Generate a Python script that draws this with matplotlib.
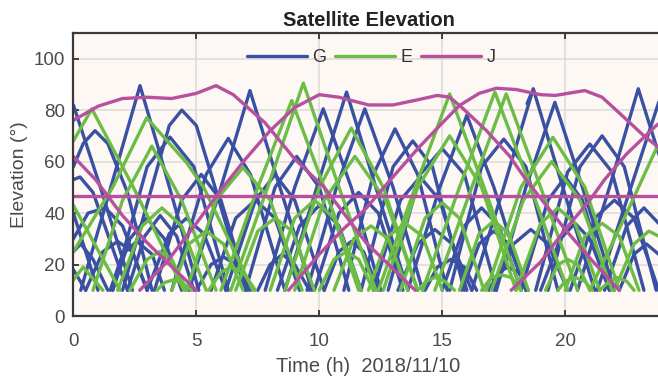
import matplotlib
matplotlib.use("Agg")
import matplotlib.pyplot as plt

# elevation passes: each pass is a list of (time h, elevation deg)
G_passes = [
    [(0, 82), (1.1, 50), (2.4, 10)],
    [(0, 58), (0.4, 67), (0.88, 72), (1.4, 67), (2.2, 48), (3.2, 10)],
    [(0, 53), (0.27, 54), (0.8, 48), (2.2, 10)],
    [(0, 30), (0.6, 40), (1.3, 42), (2.0, 35), (3.0, 10)],
    [(0, 25), (0.3, 28), (0.8, 22), (1.4, 10)],
    [(0.5, 10), (1.2, 25), (1.8, 29), (2.4, 25), (3.0, 10)],
    [(0.3, 10), (1.49, 49), (2.71, 89.5), (3.46, 65), (5.1, 10)],
    [(1.6, 10), (3.0, 58), (3.93, 69.5), (4.9, 58), (6.3, 10)],
    [(2.0, 10), (3.25, 52), (3.9, 74), (4.41, 80), (5.0, 74), (5.7, 52), (7.0, 10)],
    [(1.6, 10), (2.3, 30), (2.98, 38), (3.7, 30), (4.4, 10)],
    [(2.2, 10), (2.9, 31), (3.53, 39), (4.2, 31), (4.9, 10)],
    [(1.5, 10), (2.0, 24), (2.58, 29), (3.2, 24), (3.7, 10)],
    [(0, 40), (1.0, 10)],
    [(0, 18), (0.5, 10)],
    [(3.0, 10), (3.9, 32), (4.6, 38), (5.3, 32), (6.2, 10)],
    [(5.0, 10), (5.6, 20), (6.1, 23), (6.6, 20), (7.2, 10)],
    [(4.0, 10), (5.4, 55), (6.3, 69), (7.2, 55), (8.6, 10)],
    [(4.7, 10), (6.0, 50), (7.18, 87.6), (8.4, 50), (9.7, 10)],
    [(3.3, 10), (4.4, 45), (5.2, 55), (6.0, 45), (7.1, 10)],
    [(5.6, 10), (6.6, 38), (7.4, 45), (8.2, 38), (9.2, 10)],
    [(6.2, 10), (7.4, 45), (8.2, 55), (9.0, 45), (10.2, 10)],
    [(7.5, 10), (8.0, 20), (8.5, 24), (9.0, 20), (9.6, 10)],
    [(7.0, 10), (8.2, 50), (9.08, 62), (10.0, 50), (11.2, 10)],
    [(7.8, 10), (9.0, 50), (10.16, 80.5), (11.3, 50), (12.5, 10)],
    [(8.6, 10), (9.9, 50), (11.11, 87), (12.3, 50), (13.6, 10)],
    [(9.5, 10), (10.7, 50), (11.85, 80.5), (13.0, 50), (14.2, 10)],
    [(8.3, 10), (9.2, 35), (10.0, 43), (10.8, 35), (11.7, 10)],
    [(9.8, 10), (10.8, 40), (11.6, 48), (12.4, 40), (13.4, 10)],
    [(10.2, 10), (10.8, 25), (11.3, 29), (11.8, 25), (12.4, 10)],
    [(11.0, 10), (12.2, 55), (13.08, 72.7), (14.0, 55), (15.2, 10)],
    [(11.7, 10), (13.0, 58), (13.8, 68), (14.6, 58), (15.9, 10)],
    [(12.2, 10), (13.3, 45), (14.1, 54), (14.9, 45), (16.0, 10)],
    [(12.8, 10), (14.1, 55), (15.0, 65), (15.9, 55), (17.2, 10)],
    [(13.2, 10), (14.0, 28), (14.7, 33.6), (15.4, 28), (16.2, 10)],
    [(14.3, 10), (14.8, 19), (15.35, 22), (15.9, 19), (16.4, 10)],
    [(13.6, 10), (14.9, 50), (16.0, 78), (17.1, 50), (18.4, 10)],
    [(15.0, 10), (15.9, 35), (16.6, 42), (17.3, 35), (18.2, 10)],
    [(15.8, 10), (16.5, 28), (17.1, 33), (17.7, 28), (18.4, 10)],
    [(15.3, 10), (16.6, 58), (17.5, 68.7), (18.4, 58), (19.7, 10)],
    [(16.9, 10), (17.3, 17), (17.67, 19), (18.1, 17), (18.5, 10)],
    [(17.1, 10), (17.9, 28), (18.6, 33.6), (19.3, 28), (20.1, 10)],
    [(16.2, 10), (17.5, 50), (18.7, 88.3), (19.9, 50), (21.2, 10)],
    [(18.45, 82.5), (18.6, 86)],
    [(17.2, 10), (18.4, 50), (19.58, 83), (20.7, 50), (22.0, 10)],
    [(18.2, 10), (19.3, 45), (20.0, 54), (20.7, 45), (21.8, 10)],
    [(19.0, 10), (19.8, 30), (20.4, 36), (21.0, 30), (21.8, 10)],
    [(18.8, 10), (20.1, 56), (21.0, 66.8), (21.9, 56), (23.2, 10)],
    [(19.3, 10), (20.6, 58), (21.5, 70), (22.4, 58), (23.7, 10)],
    [(20.5, 10), (21.8, 50), (22.97, 88.3), (24, 57)],
    [(21.3, 10), (22.5, 45), (23.8, 83), (24, 86)],
    [(20.2, 10), (21.2, 38), (22.0, 45), (22.8, 38), (23.8, 10)],
    [(21.6, 10), (22.5, 35), (23.2, 42), (23.9, 35), (24, 33)],
    [(22.2, 10), (22.8, 24), (23.3, 28), (23.8, 24), (24, 22)],
]

E_passes = [
    [(0, 68), (0.75, 80.5), (2.44, 50), (4.5, 10)],
    [(0, 25), (1.6, 50), (2.98, 77), (4.6, 59.6), (5.3, 50), (7.3, 10)],
    [(0.8, 10), (2.0, 45), (3.19, 66), (4.4, 45), (5.8, 10)],
    [(0, 43), (1.9, 10)],
    [(0, 14), (0.4, 19), (1.2, 10)],
    [(1.8, 10), (2.8, 35), (3.6, 42), (4.4, 35), (5.4, 10)],
    [(2.3, 10), (3.0, 22), (3.5, 25), (4.0, 22), (4.6, 10)],
    [(3.4, 10), (3.7, 13), (4.06, 14), (4.4, 13), (4.8, 10)],
    [(4.0, 10), (4.7, 28), (5.4, 33), (6.1, 28), (6.9, 10)],
    [(5.5, 10), (6.0, 17), (6.4, 19), (6.9, 17), (7.4, 10)],
    [(4.6, 10), (5.8, 45), (6.9, 57.7), (8.0, 45), (9.3, 10)],
    [(6.6, 10), (7.5, 33), (8.2, 38), (8.9, 33), (9.8, 10)],
    [(6.0, 10), (7.5, 50), (8.88, 83.7), (10.2, 50), (11.7, 10)],
    [(6.4, 10), (7.9, 50), (9.35, 90.5), (10.8, 50), (12.3, 10)],
    [(8.0, 10), (9.0, 38), (9.8, 45), (10.6, 38), (11.6, 10)],
    [(10.0, 10), (10.6, 22), (11.1, 25), (11.6, 22), (12.2, 10)],
    [(8.6, 10), (10.0, 50), (11.3, 73), (12.6, 50), (14.0, 10)],
    [(9.0, 10), (10.2, 45), (11.45, 62), (12.7, 45), (14.0, 10)],
    [(10.6, 10), (11.4, 30), (12.1, 35), (12.8, 30), (13.6, 10)],
    [(12.0, 10), (12.8, 31), (13.5, 36), (14.2, 31), (15.0, 10)],
    [(14.0, 10), (14.35, 13.5), (14.7, 15), (15.1, 13.5), (15.5, 10)],
    [(13.3, 10), (14.3, 38), (15.0, 44), (15.7, 38), (16.7, 10)],
    [(12.4, 10), (13.9, 50), (15.3, 86.3), (16.7, 50), (18.2, 10)],
    [(12.6, 10), (14.0, 50), (15.3, 70), (16.6, 50), (18.0, 10)],
    [(15.7, 10), (16.5, 32), (17.1, 37), (17.7, 32), (18.5, 10)],
    [(16.6, 10), (17.0, 15), (17.4, 16), (17.8, 15), (18.2, 10)],
    [(14.2, 10), (15.7, 50), (17.14, 87), (18.6, 50), (20.1, 10)],
    [(14.7, 10), (16.2, 50), (17.6, 86.3), (19.0, 50), (20.5, 10)],
    [(16.8, 10), (18.2, 50), (19.5, 69.4), (20.8, 50), (22.2, 10)],
    [(17.0, 10), (18.3, 45), (19.45, 60), (20.6, 45), (21.9, 10)],
    [(18.0, 10), (19.0, 36), (19.7, 42), (20.4, 36), (21.4, 10)],
    [(19.2, 10), (19.7, 20), (20.1, 22), (20.5, 20), (21.0, 10)],
    [(19.7, 10), (20.0, 13.5), (20.4, 15), (20.8, 13.5), (21.1, 10)],
    [(20.0, 10), (20.8, 31), (21.5, 36), (22.2, 31), (23.0, 10)],
    [(21.4, 10), (21.8, 13.5), (22.1, 15), (22.5, 13.5), (22.8, 10)],
    [(22.0, 10), (22.8, 28), (23.4, 33), (24, 30)],
    [(21.0, 10), (22.5, 40), (23.7, 65), (24, 67)],
]

J_passes = [
    [(0, 76), (1, 81.5), (2, 84.5), (3, 85), (4, 84.5), (5, 86.5), (5.8, 89.5), (6.5, 86),
     (7.8, 75), (9, 61), (10.2, 50), (11.9, 28.5), (13.9, 10)],
    [(0, 62), (0.9, 53), (2, 39), (3, 28.5), (3.8, 21), (5.0, 10)],
    [(2.7, 10), (3.8, 21), (5, 36), (6, 49), (7, 61), (8, 72), (9, 81), (10, 86), (10.8, 85),
     (12, 82), (13, 82), (14, 84), (14.8, 85.7), (15.3, 85), (15.8, 81), (16.8, 72),
     (17.75, 62), (18.4, 53), (20, 33.6), (21, 22.5), (22.2, 10)],
    [(8.75, 10), (10, 24), (11, 34), (11.86, 41.4), (12.9, 53), (14, 65), (15, 75),
     (15.7, 81.8), (16.5, 86.5), (17.2, 88.5), (18, 88), (19, 86), (19.6, 85.7),
     (20.8, 87.6), (21.5, 85), (22.3, 78), (23.2, 70), (24, 64)],
    [(17.8, 10), (19, 21), (20, 33.6), (21, 45), (21.6, 53), (22.5, 63), (23.7, 74), (24, 76)],
    [(0, 46.5), (24, 46.5)],
]

colors = {"G": "#3A51A3", "E": "#6CBD45", "J": "#B5519F"}

plt.rcParams['font.family'] = ['Liberation Sans', 'DejaVu Sans']
fig = plt.figure(figsize=(6.58, 3.78), dpi=100)
ax = fig.add_axes([0.1115, 0.164, 0.897, 0.749])
ax.set_facecolor("#FDF8F4")

for name, passes in [("G", G_passes), ("E", E_passes), ("J", J_passes)]:
    for i, p in enumerate(passes):
        t = [q[0] for q in p]
        e = [q[1] for q in p]
        ax.plot(t, e, color=colors[name], lw=2.4, solid_joinstyle="round",
                solid_capstyle="round", label=name if i == 0 else None)

ax.set_xlim(0, 24)
ax.set_ylim(0, 110)
ax.set_xticks([0, 5, 10, 15, 20])
ax.set_yticks([0, 20, 40, 60, 80, 100])
ax.grid(True, color="#DCDAD8", lw=1.1)
ax.set_axisbelow(True)
ax.tick_params(direction="in", length=4, width=1.3, colors="#333333", labelcolor="#4A4A4A",
               labelsize=13.5, top=True, right=False)
ax.tick_params(axis="x", pad=12)
ax.tick_params(axis="y", pad=6)
for s in ["left", "bottom", "top"]:
    ax.spines[s].set_color("#3A3A3A")
    ax.spines[s].set_linewidth(1.6)
ax.spines["right"].set_visible(False)

ax.set_title("Satellite Elevation", fontsize=14.5, fontweight="bold", color="#222222", pad=5)
ax.set_xlabel("Time (h)  2018/11/10", fontsize=14.5, color="#4A4A4A", labelpad=5)
ax.set_ylabel("Elevation (°)", fontsize=14, color="#4A4A4A", labelpad=4)

leg = ax.legend(loc="upper center", ncol=3, frameon=False, fontsize=13, handlelength=3.3,
                columnspacing=0.5, handletextpad=0.3, bbox_to_anchor=(0.505, 1.0))
for t in leg.get_texts():
    t.set_color("#333333")

fig.savefig("out.png", dpi=100)
